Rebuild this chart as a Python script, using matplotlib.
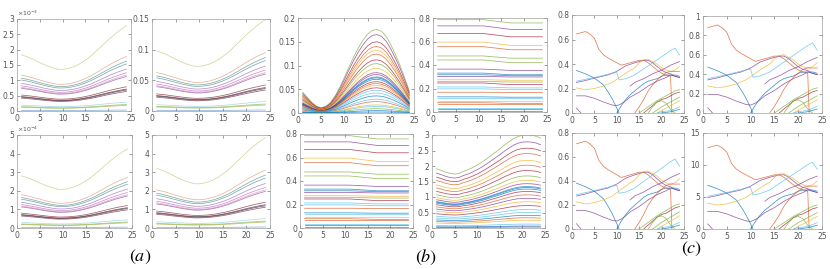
import numpy as np
import matplotlib
matplotlib.use('Agg')
import matplotlib.pyplot as plt

# MATLAB default line colours
C = {'b': '#0072BD', 'o': '#D95319', 'y': '#EDB120', 'p': '#7E2F8E',
     'g': '#77AC30', 'c': '#4DBEEE', 'r': '#A2142F'}

hours = np.arange(1, 25)

# ---------- (a) ----------
# top curve of the upper-left panel (x1e-3)
a_top = [1.83, 1.78, 1.72, 1.65, 1.58, 1.51, 1.45, 1.40, 1.36, 1.36, 1.38, 1.42,
         1.48, 1.56, 1.66, 1.77, 1.90, 2.04, 2.18, 2.32, 2.45, 2.57, 2.68, 2.78]
# start value of each curve (upper-left panel)
a_levels = [1.83, 1.17, 1.07, 1.01, 0.90, 0.82, 0.77, 0.74, 0.52, 0.47, 0.45, 0.42,
            0.19, 0.14, 0.12, 0.02]
a_colors = ['#c9c77a', '#e39a7a', '#4a9a8c', '#5a8aa0', '#a070b0', '#c070c0',
            '#d890c8', '#9050a0', '#8a2a3a', '#303030', '#502040', '#703040',
            '#8fd0ea', '#8ab84a', '#a0b040', '#6a9ad0']
# first curve value in each panel: UL, UR, LL, LR
a_panel_top = [1.83, 0.098, 2.80, 3.20]

# ---------- (b) ----------
b_bell_top = [0.044, 0.033, 0.022, 0.014, 0.011, 0.014, 0.022, 0.036, 0.054, 0.075,
              0.097, 0.118, 0.137, 0.153, 0.166, 0.174, 0.176, 0.172, 0.161, 0.144,
              0.123, 0.100, 0.074, 0.046]
b_bell_peaks = [0.176, 0.165, 0.150, 0.140, 0.132, 0.124, 0.112, 0.104, 0.094, 0.085,
                0.081, 0.076, 0.074, 0.071, 0.066, 0.062, 0.058, 0.053, 0.048, 0.042,
                0.036, 0.029, 0.024, 0.017, 0.014, 0.009, 0.005, 0.002]
b_bell_colors = ['g', 'p', 'r', 'o', 'y', 'o', 'r', 'g', 'y', 'p', 'p', 'b', 'b', 'b',
                 'r', 'o', 'y', 'r', 'c', 'c', 'b', 'c', 'o', 'y', 'c', 'g', 'b', 'b']

b_flat_x = [1, 11, 17, 24]
b_flat_start = [0.786, 0.733, 0.668, 0.595, 0.556, 0.477, 0.443, 0.365, 0.331, 0.317,
                0.303, 0.275, 0.261, 0.247, 0.213, 0.197, 0.168, 0.129, 0.115, 0.093,
                0.079, 0.065, 0.034, 0.022, 0.008]
b_flat_end = [0.758, 0.703, 0.640, 0.567, 0.530, 0.458, 0.420, 0.354, 0.317, 0.309,
              0.298, 0.270, 0.255, 0.233, 0.205, 0.190, 0.166, 0.126, 0.115, 0.093,
              0.073, 0.065, 0.034, 0.022, 0.008]
b_flat_colors = ['g', 'p', 'r', 'y', 'o', 'g', 'g', 'p', 'b', 'b', 'p', 'y', 'g', 'r',
                 'c', 'c', 'o', 'b', 'c', 'y', 'o', 'o', 'c', 'b', 'b']

b_rise_top = [1.91, 1.86, 1.80, 1.76, 1.74, 1.76, 1.83, 1.88, 1.95, 2.03, 2.12, 2.22,
              2.33, 2.44, 2.55, 2.67, 2.78, 2.88, 2.95, 2.99, 3.00, 2.99, 2.96, 2.90]
b_rise_levels = [1.91, 1.77, 1.64, 1.53, 1.39, 1.29, 1.18, 1.07, 0.98, 0.91, 0.85,
                 0.83, 0.80, 0.75, 0.68, 0.61, 0.54, 0.46, 0.38, 0.32, 0.26, 0.21,
                 0.16, 0.08, 0.04, 0.02]
b_rise_colors = ['g', 'p', 'r', 'o', 'y', 'o', 'r', 'g', 'y', 'p', 'b', 'b', 'b', 'r',
                 'o', 'p', 'y', 'r', 'c', 'c', 'b', 'o', 'y', 'c', 'b', 'p']

# ---------- (c) ----------  (upper-left panel units)
c_lines = [
    ('o', list(range(1, 23)) + [22.3],
     [0.645, 0.655, 0.665, 0.645, 0.61, 0.52, 0.475, 0.45, 0.43, 0.41, 0.39, 0.40,
      0.41, 0.42, 0.43, 0.43, 0.41, 0.38, 0.35, 0.325, 0.31, 0.30, 0.0]),
    ('b', [1, 3, 5, 7, 8, 9, 10, 10.5],
     [0.347, 0.32, 0.285, 0.23, 0.175, 0.114, 0.04, 0.0]),
    ('p', [1, 3, 5, 8, 10, 12, 14, 16, 17, 18, 19, 20, 21, 22, 23, 24],
     [0.25, 0.265, 0.285, 0.31, 0.34, 0.385, 0.41, 0.43, 0.43, 0.41, 0.38, 0.35,
      0.33, 0.32, 0.30, 0.29]),
    ('c', [1, 5, 9, 10, 10.5, 12, 14, 16, 18, 20, 22, 23, 24],
     [0.26, 0.29, 0.325, 0.33, 0.27, 0.28, 0.31, 0.36, 0.41, 0.46, 0.51, 0.53, 0.475]),
    ('y', [1, 3, 5, 7, 9, 11, 13, 14, 15, 16, 17, 18, 19, 20, 21, 22, 23, 24],
     [0.205, 0.19, 0.20, 0.22, 0.25, 0.30, 0.35, 0.37, 0.41, 0.435, 0.44, 0.42,
      0.40, 0.37, 0.35, 0.34, 0.35, 0.38]),
    ('p', [1, 3, 5, 7, 9, 10, 11, 12, 13, 15, 17, 19, 21, 22, 24],
     [0.14, 0.14, 0.12, 0.09, 0.065, 0.06, 0.075, 0.10, 0.13, 0.17, 0.22, 0.26,
      0.29, 0.31, 0.29]),
    ('p', [13, 14, 16, 18, 20, 22, 24],
     [0.22, 0.25, 0.28, 0.32, 0.35, 0.39, 0.42]),
    ('b', [10, 11, 12, 13, 14, 15, 16, 17, 18, 19, 20, 21, 22, 23, 24],
     [0.0, 0.06, 0.11, 0.15, 0.18, 0.21, 0.24, 0.26, 0.27, 0.28, 0.30, 0.31, 0.31,
      0.31, 0.30]),
    ('o', [14, 15, 16, 17, 18, 19, 20, 21, 22, 23, 24],
     [0.0, 0.05, 0.11, 0.18, 0.23, 0.27, 0.30, 0.33, 0.34, 0.34, 0.34]),
    ('r', [16, 17, 18, 19, 20, 21, 22, 23, 24],
     [0.0, 0.03, 0.06, 0.09, 0.11, 0.12, 0.14, 0.16, 0.17]),
    ('g', [15, 17, 19, 21, 23, 24], [0.0, 0.05, 0.10, 0.14, 0.18, 0.19]),
    ('g', [17, 18, 19, 20, 21, 22, 23], [0.0, 0.05, 0.09, 0.10, 0.08, 0.03, 0.0]),
    ('g', [18, 20, 22, 24], [0.0, 0.05, 0.09, 0.13]),
    ('y', [19, 21, 23, 24], [0.0, 0.04, 0.08, 0.10]),
    ('c', [19, 20, 22, 24], [0.0, 0.01, 0.02, 0.05]),
    ('b', [20, 22, 24], [0.0, 0.01, 0.03]),
    ('p', [1, 2], [0.04, 0.0]),
]
# red curve start in each panel: UL, UR, LL, LR
c_panel_top = [0.645, 0.88, 0.71, 12.7]

W, H = 830, 269
fig = plt.figure(figsize=(W / 100, H / 100), dpi=100)


def add_ax(l, t, r, b, ymax, yticks):
    ax = fig.add_axes([l / W, 1 - b / H, (r - l) / W, (b - t) / H])
    ax.set_xlim(0, 25)
    ax.set_ylim(0, ymax)
    ax.set_xticks(range(0, 26, 5))
    ax.set_yticks(yticks)
    ax.set_yticklabels([f'{v:g}' for v in yticks])
    ax.tick_params(direction='in', length=2, width=0.4, labelsize=5.5,
                   colors='#555555', top=True, right=True, pad=2)
    for s in ax.spines.values():
        s.set_color('#a0a0a0')
        s.set_linewidth(0.5)
    return ax


lw, al = 0.55, 0.75

# (a)
a_boxes = [(17, 19, 131, 111, 3, [0, 0.5, 1, 1.5, 2, 2.5, 3]),
           (152, 19, 270, 111, 0.15, [0, 0.05, 0.1, 0.15]),
           (17, 135, 132, 228, 5, [0, 1, 2, 3, 4, 5]),
           (152, 135, 270, 228, 5, [0, 1, 2, 3, 4, 5])]
for (l, t, r, b, ym, yt), top in zip(a_boxes, a_panel_top):
    ax = add_ax(l, t, r, b, ym, yt)
    for lev, col in zip(a_levels, a_colors):
        ax.plot(hours, np.array(a_top) * lev / a_levels[0] * top / a_top[0],
                color=col, lw=lw, alpha=al)
    if top == a_panel_top[0]:
        ax.text(0.0, 1.01, r'$\times10^{-3}$', transform=ax.transAxes,
                fontsize=4.5, color='#555555', va='bottom')
    if top == a_panel_top[2]:
        ax.text(0.0, 1.01, r'$\times10^{-4}$', transform=ax.transAxes,
                fontsize=4.5, color='#555555', va='bottom')

# (b)
ax = add_ax(298, 18, 414, 113, 0.2, [0, 0.05, 0.1, 0.15, 0.2])
for pk, col in zip(b_bell_peaks, b_bell_colors):
    ax.plot(hours, np.array(b_bell_top) * pk / b_bell_peaks[0], color=C[col],
            lw=lw, alpha=al)

for box in [(433, 18, 547, 112), (300, 134, 413, 228)]:
    ax = add_ax(*box, 0.8, [0, 0.2, 0.4, 0.6, 0.8])
    for s0, s1, col in zip(b_flat_start, b_flat_end, b_flat_colors):
        ax.plot(b_flat_x, [s0, s0, s1, s1], color=C[col], lw=lw, alpha=al)

ax = add_ax(432, 135, 545, 228, 3, [0, 0.5, 1, 1.5, 2, 2.5, 3])
for lev, col in zip(b_rise_levels, b_rise_colors):
    ax.plot(hours, np.array(b_rise_top) * lev / b_rise_levels[0], color=C[col],
            lw=lw, alpha=al)

# (c)
c_boxes = [(572, 15, 684, 113, 0.8, [0, 0.2, 0.4, 0.6, 0.8]),
           (703, 16, 822, 113, 1, [0, 0.2, 0.4, 0.6, 0.8, 1]),
           (572, 133, 684, 229, 0.8, [0, 0.2, 0.4, 0.6, 0.8]),
           (703, 133, 822, 229, 15, [0, 5, 10, 15])]
for (l, t, r, b, ym, yt), top in zip(c_boxes, c_panel_top):
    ax = add_ax(l, t, r, b, ym, yt)
    for col, xs, ys in c_lines:
        ax.plot(xs, np.array(ys) * top / c_panel_top[0], color=C[col],
                lw=lw, alpha=al)

for x, y, s in [(140, 257, '$(a)$'), (426, 257, '$(b)$'), (692, 249, '$(c)$')]:
    fig.text(x / W, 1 - y / H, s, fontsize=13, ha='center', va='center',
             math_fontfamily='stix')

fig.savefig('out.png', dpi=100)
